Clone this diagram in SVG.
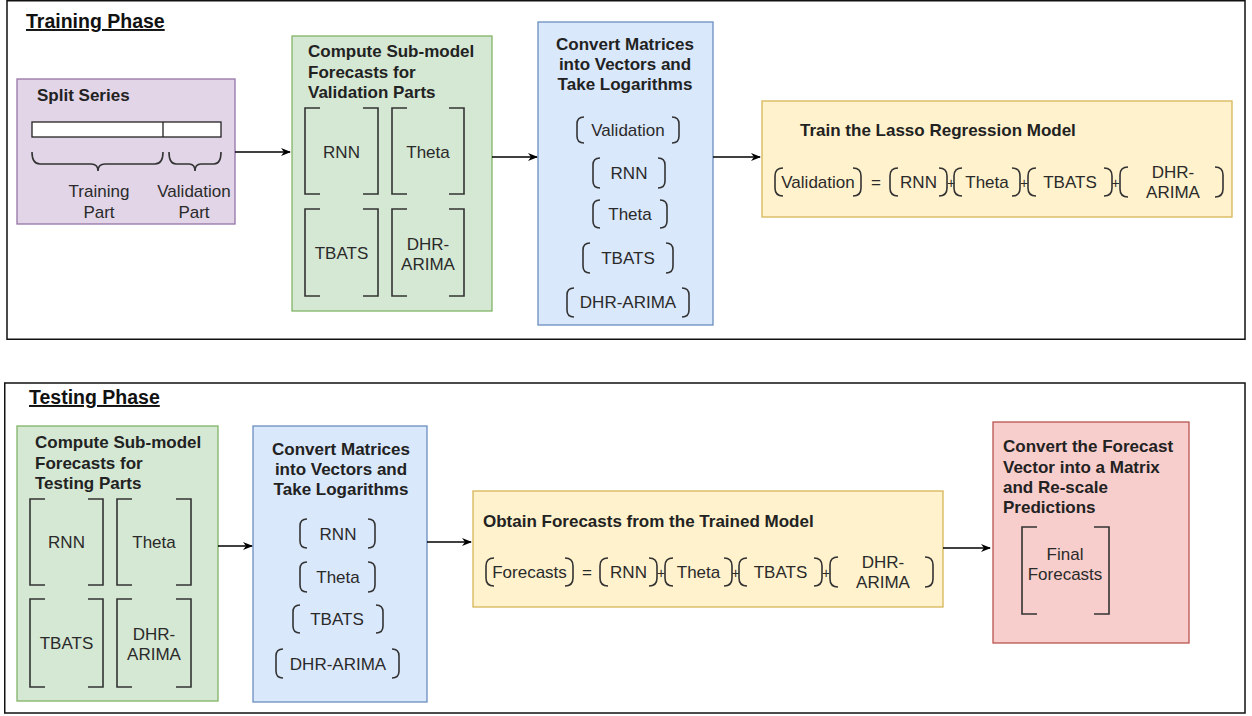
<svg xmlns="http://www.w3.org/2000/svg" width="1252" height="716" viewBox="0 0 1252 716">
<defs>
<style>
text{font-family:"Liberation Sans",Arial,sans-serif;font-size:17px;fill:#2a2a2a}
.b{font-weight:bold;fill:#222}
.m{text-anchor:middle}
.ph{font-weight:bold;font-size:19.5px;text-decoration:underline;fill:#111}
.frame{fill:#fff;stroke:#111;stroke-width:1.5}
.pur{fill:#e1d5e7;stroke:#9673a6;stroke-width:1.3}
.grn{fill:#d5e8d4;stroke:#82b366;stroke-width:1.3}
.blu{fill:#dae8fc;stroke:#6c8ebf;stroke-width:1.3}
.yel{fill:#fff2cc;stroke:#d6b656;stroke-width:1.3}
.red{fill:#f8cecc;stroke:#b85450;stroke-width:1.3}
.br{fill:none;stroke:#333;stroke-width:1.6}
.con{fill:none;stroke:#000;stroke-width:1.4}
</style>
<marker id="ah" viewBox="0 0 10 10" refX="9" refY="5" markerWidth="10" markerHeight="10" markerUnits="userSpaceOnUse" orient="auto">
<path d="M0,1 L10,5 L0,9 L3,5 z" fill="#000"/>
</marker>
</defs>

<g id="training-phase">
<rect class="frame" x="7" y="0.75" width="1238" height="338.5"/>
<text class="ph" x="26" y="28">Training Phase</text>
</g>
<g id="testing-phase">
<rect class="frame" x="4.75" y="383" width="1240.25" height="330"/>
<text class="ph" x="29" y="404">Testing Phase</text>
</g>

<g id="split-series">
<rect class="pur" x="17" y="79" width="218" height="145"/>
<text class="b" x="37" y="101">Split Series</text>
<rect x="32" y="122" width="189" height="15" fill="#fff" stroke="#222" stroke-width="1.3"/>
<line x1="163" y1="122" x2="163" y2="137" stroke="#222" stroke-width="1.3"/>
<path class="br" d="M32,152 Q32,164 40,164 L91,164 Q98,164 98,171 Q98,164 105,164 L155,164 Q163,164 163,152"/>
<path class="br" d="M169,152 Q169,164 176,164 L189,164 Q195,164 195,171 Q195,164 201,164 L214,164 Q221,164 221,152"/>
<text class="m" x="99" y="197">Training</text>
<text class="m" x="99" y="218">Part</text>
<text class="m" x="194" y="197">Validation</text>
<text class="m" x="194" y="218">Part</text>
</g>

<g id="submodel-validation">
<rect class="grn" x="292" y="36" width="200" height="275"/>
<text class="b" x="308" y="57">Compute Sub-model</text>
<text class="b" x="308" y="78">Forecasts for</text>
<text class="b" x="308" y="98">Validation Parts</text>
<path class="br" d="M320,108 H305 V194 H320 M363,108 H378 V194 H363"/>
<path class="br" d="M407,108 H392 V194 H407 M449,108 H464 V194 H449"/>
<path class="br" d="M320,209 H305 V296 H320 M363,209 H378 V296 H363"/>
<path class="br" d="M407,209 H392 V296 H407 M449,209 H464 V296 H449"/>
<text class="m" x="341.5" y="158">RNN</text>
<text class="m" x="428" y="158">Theta</text>
<text class="m" x="341.5" y="259">TBATS</text>
<text class="m" x="428" y="250">DHR-</text>
<text class="m" x="428" y="270">ARIMA</text>
</g>

<g id="convert-training">
<rect class="blu" x="538" y="22" width="175" height="303"/>
<text class="b m" x="625" y="50">Convert Matrices</text>
<text class="b m" x="625" y="70">into Vectors and</text>
<text class="b m" x="625" y="90">Take Logarithms</text>
<path class="br" d="M584,117 Q577,117 577,124 V136 Q577,143 584,143 M672,117 Q679,117 679,124 V136 Q679,143 672,143"/>
<text class="m" x="628" y="136">Validation</text>
<path class="br" d="M600,158 Q593,158 593,165 V181 Q593,188 600,188 M658,158 Q665,158 665,165 V181 Q665,188 658,188"/>
<text class="m" x="629" y="179">RNN</text>
<path class="br" d="M600,200 Q593,200 593,207 V221 Q593,228 600,228 M660,200 Q667,200 667,207 V221 Q667,228 660,228"/>
<text class="m" x="630" y="220">Theta</text>
<path class="br" d="M590,243 Q583,243 583,250 V266 Q583,273 590,273 M666,243 Q673,243 673,250 V266 Q673,273 666,273"/>
<text class="m" x="628" y="264">TBATS</text>
<path class="br" d="M574,288 Q567,288 567,295 V310 Q567,317 574,317 M682,288 Q689,288 689,295 V310 Q689,317 682,317"/>
<text class="m" x="628" y="308">DHR-ARIMA</text>
</g>

<g id="train-lasso">
<rect class="yel" x="762" y="101" width="470" height="116"/>
<text class="b" x="800" y="136">Train the Lasso Regression Model</text>
<path class="br" d="M783,168 Q775,168 775,176 V188 Q775,196 783,196 M853,168 Q861,168 861,176 V188 Q861,196 853,196"/>
<text class="m" x="818" y="188">Validation</text>
<text class="m" x="876" y="188">=</text>
<path class="br" d="M898,168 Q890,168 890,176 V188 Q890,196 898,196 M939,168 Q947,168 947,176 V188 Q947,196 939,196"/>
<text class="m" x="918.5" y="188">RNN</text>
<text class="m" x="951" y="188" style="font-size:14px">+</text>
<path class="br" d="M962,168 Q954,168 954,176 V188 Q954,196 962,196 M1012,168 Q1020,168 1020,176 V188 Q1020,196 1012,196"/>
<text class="m" x="987" y="188">Theta</text>
<text class="m" x="1024" y="188" style="font-size:14px">+</text>
<path class="br" d="M1036,168 Q1028,168 1028,176 V188 Q1028,196 1036,196 M1104,168 Q1112,168 1112,176 V188 Q1112,196 1104,196"/>
<text class="m" x="1070" y="188">TBATS</text>
<text class="m" x="1115.5" y="188" style="font-size:14px">+</text>
<path class="br" d="M1128,167 Q1120,167 1120,175 V189 Q1120,197 1128,197 M1215,167 Q1223,167 1223,175 V189 Q1223,197 1215,197"/>
<text class="m" x="1173" y="178">DHR-</text>
<text class="m" x="1173" y="198">ARIMA</text>
</g>

<g id="submodel-testing">
<rect class="grn" x="17" y="426" width="201" height="275"/>
<text class="b" x="35" y="448">Compute Sub-model</text>
<text class="b" x="35" y="469">Forecasts for</text>
<text class="b" x="35" y="489">Testing Parts</text>
<path class="br" d="M45,499 H30 V585 H45 M88,499 H103 V585 H88"/>
<path class="br" d="M132,499 H117 V585 H132 M176,499 H191 V585 H176"/>
<path class="br" d="M45,599 H30 V687 H45 M88,599 H103 V687 H88"/>
<path class="br" d="M132,599 H117 V687 H132 M176,599 H191 V687 H176"/>
<text class="m" x="66.5" y="548">RNN</text>
<text class="m" x="154" y="548">Theta</text>
<text class="m" x="66.5" y="649">TBATS</text>
<text class="m" x="154" y="640">DHR-</text>
<text class="m" x="154" y="660">ARIMA</text>
</g>

<g id="convert-testing">
<rect class="blu" x="253" y="426" width="174" height="276"/>
<text class="b m" x="341" y="455">Convert Matrices</text>
<text class="b m" x="341" y="475">into Vectors and</text>
<text class="b m" x="341" y="495">Take Logarithms</text>
<path class="br" d="M307,519 Q300,519 300,526 V541 Q300,548 307,548 M368,519 Q375,519 375,526 V541 Q375,548 368,548"/>
<text class="m" x="338" y="540">RNN</text>
<path class="br" d="M307,562 Q300,562 300,569 V585 Q300,592 307,592 M368,562 Q375,562 375,569 V585 Q375,592 368,592"/>
<text class="m" x="338" y="583">Theta</text>
<path class="br" d="M300,605 Q293,605 293,612 V626 Q293,633 300,633 M376,605 Q383,605 383,612 V626 Q383,633 376,633"/>
<text class="m" x="337" y="625">TBATS</text>
<path class="br" d="M283,649 Q276,649 276,656 V671 Q276,678 283,678 M392,649 Q399,649 399,656 V671 Q399,678 392,678"/>
<text class="m" x="338" y="670">DHR-ARIMA</text>
</g>

<g id="obtain-forecasts">
<rect class="yel" x="473" y="491" width="470" height="116"/>
<text class="b" x="483" y="527">Obtain Forecasts from the Trained Model</text>
<path class="br" d="M494,558 Q486,558 486,566 V578 Q486,586 494,586 M565,558 Q573,558 573,566 V578 Q573,586 565,586"/>
<text class="m" x="529.5" y="578">Forecasts</text>
<text class="m" x="587" y="578">=</text>
<path class="br" d="M608,558 Q600,558 600,566 V578 Q600,586 608,586 M649,558 Q657,558 657,566 V578 Q657,586 649,586"/>
<text class="m" x="628.5" y="578">RNN</text>
<text class="m" x="661" y="578" style="font-size:14px">+</text>
<path class="br" d="M673,558 Q665,558 665,566 V578 Q665,586 673,586 M724,558 Q732,558 732,566 V578 Q732,586 724,586"/>
<text class="m" x="698.5" y="578">Theta</text>
<text class="m" x="735.5" y="578" style="font-size:14px">+</text>
<path class="br" d="M747,558 Q739,558 739,566 V578 Q739,586 747,586 M814,558 Q822,558 822,566 V578 Q822,586 814,586"/>
<text class="m" x="780.5" y="578">TBATS</text>
<text class="m" x="826" y="578" style="font-size:14px">+</text>
<path class="br" d="M838,557 Q830,557 830,565 V579 Q830,587 838,587 M925,557 Q933,557 933,565 V579 Q933,587 925,587"/>
<text class="m" x="883" y="568">DHR-</text>
<text class="m" x="883" y="588">ARIMA</text>
</g>

<g id="final-forecasts">
<rect class="red" x="993" y="422" width="196" height="221"/>
<text class="b" x="1003" y="452">Convert the Forecast</text>
<text class="b" x="1003" y="473">Vector into a Matrix</text>
<text class="b" x="1003" y="493">and Re-scale</text>
<text class="b" x="1003" y="513">Predictions</text>
<path class="br" d="M1037,527 H1022 V614 H1037 M1094,527 H1109 V614 H1094"/>
<text class="m" x="1065" y="560">Final</text>
<text class="m" x="1065" y="580">Forecasts</text>
</g>

<g id="connectors">
<line class="con" x1="235" y1="152" x2="290" y2="152" marker-end="url(#ah)"/>
<line class="con" x1="492" y1="157" x2="537" y2="157" marker-end="url(#ah)"/>
<line class="con" x1="713" y1="157" x2="760" y2="157" marker-end="url(#ah)"/>
<line class="con" x1="218" y1="546" x2="252" y2="546" marker-end="url(#ah)"/>
<line class="con" x1="427" y1="542" x2="471" y2="542" marker-end="url(#ah)"/>
<line class="con" x1="943" y1="548" x2="990" y2="548" marker-end="url(#ah)"/>
</g>
</svg>
